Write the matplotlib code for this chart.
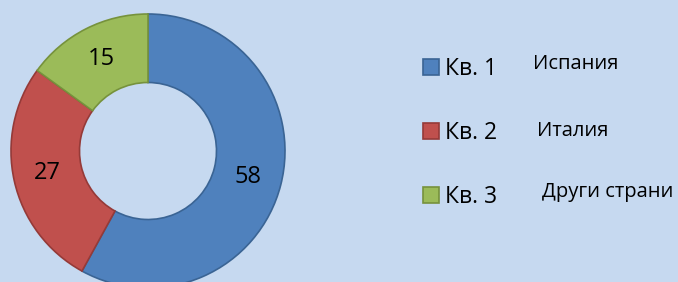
import matplotlib.pyplot as plt
from matplotlib.patches import Patch

plt.rcParams['font.family'] = ['Open Sans', 'DejaVu Sans']

# данни
quarters = ['Кв. 1', 'Кв. 2', 'Кв. 3']
values = [58, 27, 15]
countries = ['Испания', 'Италия', 'Други страни']
colors = ['#4F81BD', '#C0504D', '#9BBB59']
edges = ['#3A6494', '#953A38', '#76923C']
bg = '#C6D9F0'

W, H = 678, 282
fig = plt.figure(figsize=(W / 100, H / 100), dpi=100, facecolor=bg)
ax = fig.add_axes([0, 0, 1, 1])
ax.set_facecolor(bg)

# кръгова диаграма (поничка), координати в пиксели
cx, cy, r = 148, H - 151, 137
wedges, _, autotexts = ax.pie(
    values, colors=colors, startangle=90, counterclock=False,
    center=(cx, cy), radius=r, frame=True,
    autopct=lambda p: f'{p * sum(values) / 100:.0f}', pctdistance=0.75,
    wedgeprops=dict(width=r * 0.5, linewidth=1.2),
    textprops=dict(fontsize=17, color='black'))
for w, ec in zip(wedges, edges):
    w.set_edgecolor(ec)
ax.set_xlim(0, W)
ax.set_ylim(0, H)
ax.axis('off')

# легенда
handles = [Patch(facecolor=c, edgecolor=e, linewidth=1.2) for c, e in zip(colors, edges)]
ax.legend(handles, quarters, loc='upper left', bbox_to_anchor=(423 / W, 1 - 57 / H),
          frameon=False, fontsize=16.5, handlelength=0.68, handleheight=0.68,
          handletextpad=0.3, labelspacing=1.75, borderpad=0, borderaxespad=0)

# имена на държави
name_pos = [(533, 64), (537, 131), (542, 192)]
for (x, y), name in zip(name_pos, countries):
    ax.text(x, H - y, name, fontsize=14.5, va='center', ha='left')

fig.savefig('out.png', dpi=100, facecolor=bg)
